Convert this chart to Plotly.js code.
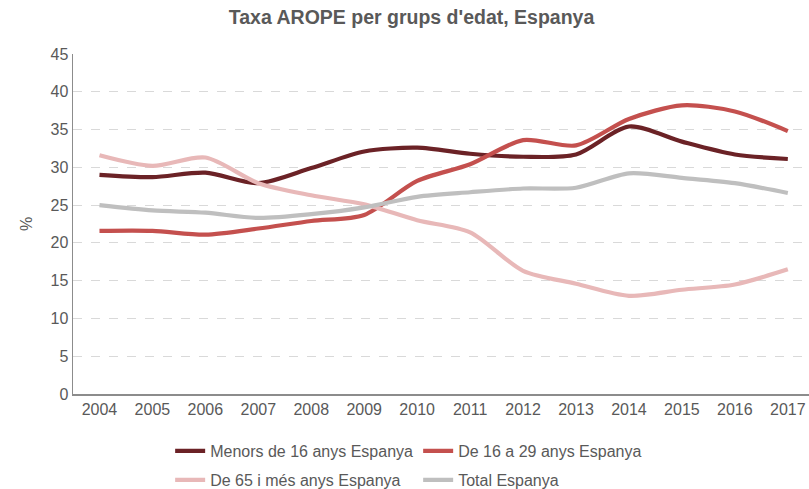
<!DOCTYPE html>
<html>
<head>
<meta charset="utf-8">
<script src="https://cdn.plot.ly/plotly-3.0.1.min.js"></script>
<style>
  html, body { margin: 0; padding: 0; background: #fff; }
  #chart { width: 809px; height: 489px; }
</style>
</head>
<body>
<div id="chart"></div>
<script>
const years = [2004, 2005, 2006, 2007, 2008, 2009, 2010, 2011, 2012, 2013, 2014, 2015, 2016, 2017];
const menors16 = [29.0, 28.7, 29.3, 27.9, 29.9, 32.1, 32.6, 31.8, 31.4, 31.7, 35.4, 33.4, 31.7, 31.1];
const de16a29 = [21.6, 21.6, 21.1, 21.9, 22.9, 23.7, 28.2, 30.4, 33.6, 32.9, 36.4, 38.2, 37.4, 34.8];
const de65 = [31.6, 30.2, 31.3, 27.9, 26.3, 25.1, 23.0, 21.4, 16.3, 14.6, 13.0, 13.8, 14.5, 16.5];
const total = [25.0, 24.3, 24.0, 23.3, 23.8, 24.7, 26.1, 26.7, 27.2, 27.3, 29.2, 28.6, 27.9, 26.6];
const seriesNames = ["Menors de 16 anys Espanya", "De 16 a 29 anys Espanya", "De 65 i més anys Espanya", "Total Espanya"];

const colors = ["#6B2226", "#C4504E", "#E8B8B8", "#BFBFBF"];
const data = [menors16, de16a29, de65, total];
const legends = ["legend", "legend", "legend2", "legend2"];

const traces = data.map((vals, i) => ({
  x: years,
  y: vals,
  name: seriesNames[i],
  type: "scatter",
  mode: "lines",
  line: { color: colors[i], width: 4.2, shape: "spline", smoothing: 0.8 },
  legend: legends[i],
  hoverinfo: "x+y+name"
}));

const textColor = "#595959";
const fontFam = "'Liberation Sans', Arial, sans-serif";

const legendCommon = {
  orientation: "h",
  xref: "paper",
  yref: "container",
  xanchor: "left",
  yanchor: "middle",
  x: 0.132,
  entrywidth: 203,
  entrywidthmode: "pixels",
  font: { family: fontFam, size: 16, color: textColor },
  bgcolor: "rgba(0,0,0,0)",
  borderwidth: 0
};

const layout = {
  width: 809,
  height: 489,
  margin: { l: 73, r: 0, t: 54, b: 95 },
  paper_bgcolor: "#ffffff",
  plot_bgcolor: "#ffffff",
  font: { family: fontFam, size: 16, color: textColor },
  title: {
    text: "<b>Taxa AROPE per grups d'edat, Espanya</b>",
    font: { family: fontFam, size: 19.5, color: textColor },
    x: 0.5087,
    xanchor: "center",
    y: 0.965,
    yanchor: "middle"
  },
  xaxis: {
    type: "linear",
    range: [2003.5, 2017.4],
    tickvals: years,
    ticktext: years.map(String),
    showgrid: false,
    zeroline: false,
    showline: true,
    linecolor: "#8C8C8C",
    linewidth: 1.5,
    ticks: "",
    tickfont: { family: fontFam, size: 16, color: textColor },
    fixedrange: true
  },
  yaxis: {
    range: [0, 45],
    dtick: 5,
    tick0: 0,
    showgrid: true,
    gridcolor: "#D9D9D9",
    gridwidth: 1,
    griddash: "dash",
    zeroline: false,
    showline: true,
    linecolor: "#8C8C8C",
    linewidth: 1.5,
    ticks: "",
    tickfont: { family: fontFam, size: 16, color: textColor },
    title: { text: "%", font: { family: fontFam, size: 16, color: textColor }, standoff: 14 },
    fixedrange: true
  },
  legend: Object.assign({}, legendCommon, { y: 1 - 451 / 489 }),
  legend2: Object.assign({}, legendCommon, { y: 1 - 480 / 489 }),
  showlegend: true
};

Plotly.newPlot("chart", traces, layout, { displayModeBar: false, staticPlot: true });
</script>
</body>
</html>
